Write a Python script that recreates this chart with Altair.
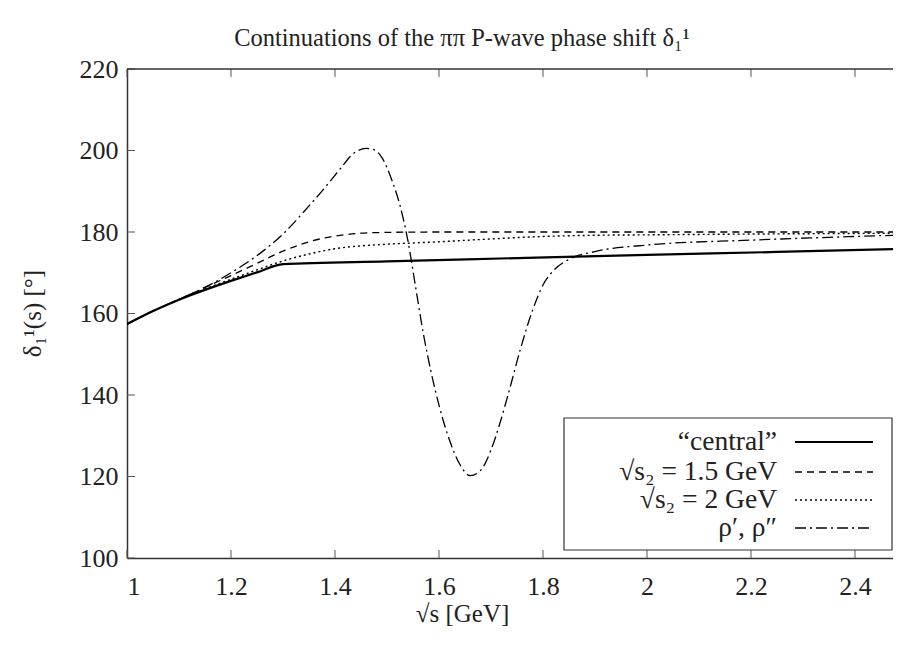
import altair as alt
import pandas as pd

# ---- data ----
x_central = [1.0, 1.05, 1.1, 1.15, 1.2, 1.25, 1.3, 1.5, 1.75, 2.0, 2.25, 2.5]
y_central = [157.4, 160.6, 163.4, 165.8, 168.0, 170.1, 172.1, 172.8, 173.6, 174.4, 175.1, 175.9]

x_s15 = [1.0, 1.05, 1.1, 1.15, 1.2, 1.25, 1.3, 1.35, 1.4, 1.45, 1.5, 1.6, 1.8, 2.0, 2.2, 2.5]
y_s15 = [157.4, 160.6, 163.4, 166.4, 169.3, 172.3, 175.3, 177.6, 179.0, 179.7, 179.9, 180.0, 180.0, 180.0, 180.0, 180.0]

x_s2 = [1.0, 1.05, 1.1, 1.15, 1.2, 1.25, 1.3, 1.35, 1.4, 1.45, 1.5, 1.6, 1.7, 1.8, 1.9, 2.0, 2.2, 2.5]
y_s2 = [157.4, 160.6, 163.4, 166.0, 168.4, 170.7, 172.9, 174.6, 175.9, 176.6, 177.0, 177.6, 178.3, 178.9, 179.2, 179.3, 179.5, 179.7]

x_rho = [1.0, 1.05, 1.1, 1.15, 1.2, 1.25, 1.3, 1.35, 1.38, 1.41, 1.435, 1.46, 1.475, 1.49, 1.51,
         1.525, 1.54, 1.555, 1.57, 1.585, 1.6, 1.62, 1.64, 1.66, 1.68, 1.7, 1.717, 1.737, 1.756,
         1.78, 1.8, 1.82, 1.85, 1.9, 2.0, 2.2, 2.4, 2.5]
y_rho = [157.4, 160.6, 163.5, 166.4, 170.0, 174.2, 179.5, 186.4, 190.8, 195.5, 199.2, 200.5, 200.2, 198.3, 192.5,
         186.5, 178.0, 166.5, 155.0, 145.5, 137.5, 129.0, 123.0, 120.2, 121.5, 126.5, 133.0, 142.0, 151.0,
         160.8, 167.0, 170.5, 173.3, 175.2, 176.8, 178.0, 178.9, 179.3]

x_ticks = [1.0, 1.2, 1.4, 1.6, 1.8, 2.0, 2.2, 2.4]
y_ticks = [100, 120, 140, 160, 180, 200, 220]

legend_labels = ["\u201ccentral\u201d", "\u221as\u2082 = 1.5 GeV", "\u221as\u2082 = 2 GeV", "\u03c1\u2032, \u03c1\u2033"]

title_text = "Continuations of the \u03c0\u03c0 P-wave phase shift \u03b4\u2081\u00b9"

# ---- layout ----
W, H = 766, 489
FONT = "'Liberation Serif', 'Times New Roman', 'DejaVu Serif', serif"
FS_TICK = 26
FS_TITLE = 24.5
FS_AXT = 25
FS_LEG = 27.5
INK = "#222222"
FRAME = "#333333"

xs = alt.Scale(domain=[1.0, 2.4731], nice=False, zero=False)
ys = alt.Scale(domain=[100, 220], nice=False, zero=False)

x_axis = alt.Axis(values=x_ticks, format="~g", grid=False, ticks=False, tickSize=0,
                  domainColor=FRAME, domainWidth=1.5, labelFont=FONT, labelFontSize=FS_TICK,
                  labelFontWeight="normal",
                  labelColor=INK, labelBaseline="alphabetic", labelPadding=36,
                  title="\u221as [GeV]", titleFont=FONT, titleFontSize=FS_AXT, titleFontWeight="normal",
                  titleColor=INK, titleX=335, titleY=63, titleAlign="center",
                  titleBaseline="alphabetic")
y_axis = alt.Axis(values=y_ticks, grid=False, ticks=False, tickSize=0,
                  domainColor=FRAME, domainWidth=1.5, labelFont=FONT, labelFontSize=FS_TICK,
                  labelFontWeight="normal",
                  labelColor=INK, labelPadding=9,
                  title="\u03b4\u2081\u00b9(s) [\u00b0]", titleFont=FONT, titleFontSize=FS_AXT,
                  titleFontWeight="normal", titleColor=INK, titleX=-95, titleY=244,
                  titleAngle=270, titleAlign="center", titleBaseline="middle")


def X(field="x"):
    return alt.X(f"{field}:Q", scale=xs, axis=x_axis)


def Y(field="y"):
    return alt.Y(f"{field}:Q", scale=ys, axis=y_axis)


def series(xv, yv, dash, width):
    df = pd.DataFrame({"x": xv, "y": yv})
    kw = dict(color="black", strokeWidth=width, clip=True, interpolate="monotone")
    if dash:
        kw["strokeDash"] = dash
    return alt.Chart(df).mark_line(**kw).encode(x=X(), y=Y(), order="x:Q")


dashes = [None, [7, 5], [2, 3], [11, 4, 2, 4]]
widths = [2.2, 1.3, 1.4, 1.3]

lines = [
    series(x_rho, y_rho, dashes[3], widths[3]),
    series(x_s2, y_s2, dashes[2], widths[2]),
    series(x_s15, y_s15, dashes[1], widths[1]),
    series(x_central, y_central, dashes[0], widths[0]),
]

xt = pd.DataFrame({"x": x_ticks})
yt = pd.DataFrame({"y": y_ticks})
one = pd.DataFrame({"k": [0]})
tick_style = dict(color="#555555", strokeWidth=1)
ticks = [
    alt.Chart(xt).mark_rule(**tick_style).encode(x=X(), y=alt.value(H), y2=alt.value(H - 8)),
    alt.Chart(xt).mark_rule(**tick_style).encode(x=X(), y=alt.value(0), y2=alt.value(8)),
    alt.Chart(yt).mark_rule(**tick_style).encode(y=Y(), x=alt.value(0), x2=alt.value(8)),
]

top_border = alt.Chart(one).mark_rule(color=FRAME, strokeWidth=1.5).encode(
    x=alt.value(0), x2=alt.value(W), y=alt.value(0))

text_style = dict(font=FONT, color=INK, fontWeight="normal", fontStyle="normal")

title = alt.Chart(pd.DataFrame({"t": [title_text]})).mark_text(
    align="center", baseline="alphabetic", fontSize=FS_TITLE, **text_style).encode(
    x=alt.value(335), y=alt.value(-23), text="t:N")

# legend box
legend_box = alt.Chart(one).mark_rect(fill="white", stroke=FRAME, strokeWidth=1.2).encode(
    x=alt.value(437), x2=alt.value(765), y=alt.value(349), y2=alt.value(481))

row_y = [373, 403, 431, 459]
legend_layers = [legend_box]
for lab, dash, wdt, ry in zip(legend_labels, dashes, widths, row_y):
    legend_layers.append(
        alt.Chart(pd.DataFrame({"t": [lab]})).mark_text(
            align="right", baseline="middle", fontSize=FS_LEG, **text_style).encode(
            x=alt.value(650), y=alt.value(ry), text="t:N"))
    kw = dict(color="black", strokeWidth=wdt)
    if dash:
        kw["strokeDash"] = dash
    legend_layers.append(
        alt.Chart(one).mark_rule(**kw).encode(
            x=alt.value(668), x2=alt.value(746), y=alt.value(ry)))

chart = alt.layer(*lines, *ticks, top_border, title, *legend_layers).properties(
    width=W, height=H,
    autosize=alt.AutoSizeParams(type="none"),
    padding={"left": 119, "top": 61, "right": 0, "bottom": 72},
).configure_view(stroke="transparent", strokeWidth=0)

chart.save("out.html", embed_options={"renderer": "svg", "actions": False})
